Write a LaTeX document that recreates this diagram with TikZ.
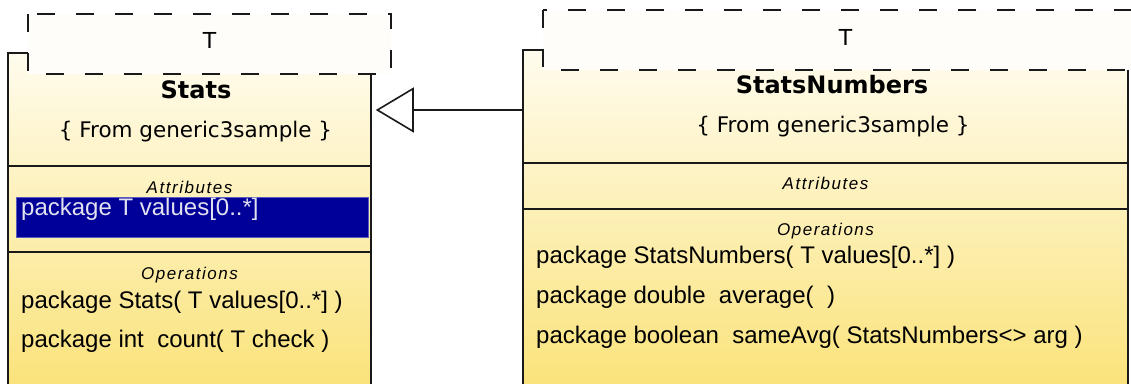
\documentclass[tikz,border=0pt]{standalone}
\usepackage{fontspec}
\setmainfont{Liberation Sans}
\newfontfamily\djv{DejaVu Sans}
\newfontfamily\secfont[LetterSpace=9]{Liberation Sans}
\usetikzlibrary{arrows.meta}
\definecolor{ctop}{RGB}{255,252,238}
\definecolor{cbot}{RGB}{250,226,120}
\definecolor{tfill}{RGB}{254,253,249}
\definecolor{selblue}{RGB}{0,0,153}
\definecolor{selborder}{RGB}{90,90,190}
\definecolor{seltext}{RGB}{225,225,240}
\definecolor{edge}{RGB}{25,25,25}
\tikzset{
  classbox/.style={draw=edge, line width=1.6pt, top color=ctop, bottom color=cbot, inner sep=0pt},
  tbox/.style={draw=edge, line width=1.8pt, dash pattern=on 18pt off 21pt, fill=tfill},
  sep/.style={draw=edge, line width=1.6pt},
  tname/.style={font=\djv\fontsize{22}{26}\selectfont, anchor=base, inner sep=0pt},
  cname/.style={font=\djv\bfseries\fontsize{24}{28}\selectfont, anchor=base, inner sep=0pt},
  cfrom/.style={font=\djv\fontsize{21.5}{26}\selectfont, anchor=base, inner sep=0pt},
  seclabel/.style={font=\secfont\itshape\fontsize{17}{20}\selectfont, anchor=base, inner sep=0pt},
  member/.style={font=\fontsize{24}{28}\selectfont, anchor=base west, inner sep=0pt},
  genarrow/.style={draw=edge, line width=1.6pt, -{Triangle[open, length=38pt, width=45pt, fill=white]}}
}
\begin{document}
\begin{tikzpicture}[x=1pt,y=-1pt]
\useasboundingbox (0,0) rectangle (1131,383);
\clip (0,0) rectangle (1131,383);
\fill[white] (0,0) rectangle (1131,383);

% class Stats
\node[classbox, minimum width=363pt, minimum height=340pt] (stats) at (189.5,223) {};
\draw[tbox] (28,14) rectangle (391,74);
\node[tname] (statsT) at (209.5,48) {T};
\node[cname] (statsname) at (196,98) {Stats};
\node[cfrom] (statsfrom) at (195.5,137) {\{ From generic3sample \}};
\draw[sep] (stats.west |- 0,166) -- (stats.east |- 0,166);
\node[seclabel] (statsattr) at (189.5,193) {Attributes};
\node[draw=selborder, line width=0.8pt, fill=selblue, minimum width=352pt, minimum height=40pt, inner sep=0pt] (statssel) at (192,217) {};
\node[member, text=seltext] (statsval) at (21,215) {package T values[0..*]};
\draw[sep] (stats.west |- 0,252) -- (stats.east |- 0,252);
\node[seclabel] (statsops) at (189.5,279) {Operations};
\node[member] (statsop1) at (21,308) {package Stats( T values[0..*] )};
\node[member] (statsop2) at (21,347) {package int\ \ count( T check )};

% class StatsNumbers
\node[classbox, minimum width=605pt, minimum height=345pt] (sn) at (825.5,222.5) {};
\draw[tbox] (543,10) rectangle (1148,70);
\node[tname] (snT) at (845.5,45) {T};
\node[cname] (snname) at (832,93) {StatsNumbers};
\node[cfrom] (snfrom) at (833,132) {\{ From generic3sample \}};
\draw[sep] (sn.west |- 0,163) -- (sn.east |- 0,163);
\node[seclabel] (snattr) at (825.5,189) {Attributes};
\draw[sep] (sn.west |- 0,209) -- (sn.east |- 0,209);
\node[seclabel] (snops) at (825.5,235) {Operations};
\node[member] (snop1) at (536,263) {package StatsNumbers( T values[0..*] )};
\node[member] (snop2) at (536,303) {package double\ \ average( \ )};
\node[member] (snop3) at (536,343) {package boolean\ \ sameAvg( StatsNumbers<> arg )};

% generalization
\coordinate (ah) at (0,110);
\draw[genarrow] (sn.west |- ah) -- ([xshift=4pt]stats.east |- ah);
\end{tikzpicture}
\end{document}
